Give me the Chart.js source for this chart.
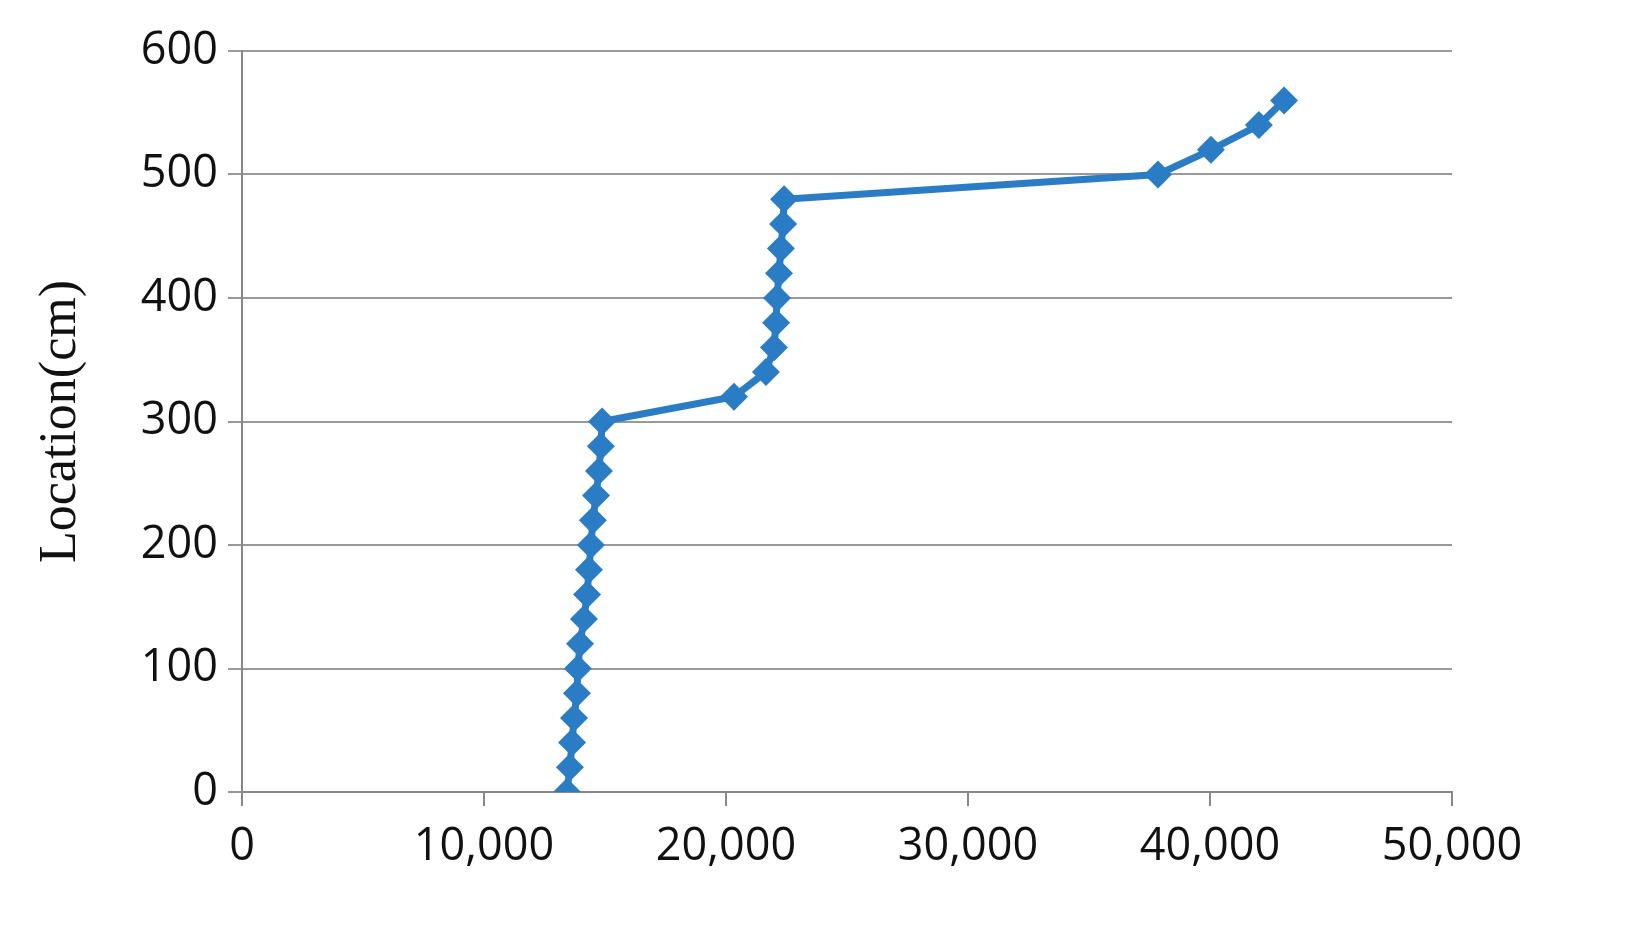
<!DOCTYPE html>
<html><head><meta charset="utf-8">
<script src="https://cdn.jsdelivr.net/npm/chart.js@4/dist/chart.umd.min.js"></script>
<style>html,body{margin:0;padding:0;background:#fff}#w{width:1633px;height:950px}</style>
</head><body><div id="w"><canvas id="c"></canvas></div>
<script>
const locations = [0,20,40,60,80,100,120,140,160,180,200,220,240,260,280,300,320,340,360,380,400,420,440,460,480,500,520,540,560];
const values = [13430,13550,13640,13720,13840,13880,13970,14130,14260,14340,14420,14500,14630,14750,14830,14880,20330,21650,21980,22070,22110,22190,22270,22360,22400,37850,40040,42020,43060];
const xTicks = [0,10000,20000,30000,40000,50000];
const yTicks = [0,100,200,300,400,500,600];
const yTitle = "Location(cm)";
const pts = values.map((v,i)=>({x:v,y:locations[i]}));
const blue = '#2a7dc4';
new Chart(document.getElementById('c'), {
  type:'scatter',
  data:{datasets:[{data:pts,showLine:true,borderColor:blue,backgroundColor:blue,borderWidth:7,
    pointStyle:'rectRot',pointRadius:14,pointHoverRadius:14,pointBorderWidth:0}]},
  options:{responsive:true,maintainAspectRatio:false,animation:false,devicePixelRatio:1,
    layout:{padding:{left:0,right:181,top:51,bottom:0}},
    plugins:{legend:{display:false},tooltip:{enabled:false}},
    scales:{
      x:{type:'linear',min:0,max:50000,afterBuildTicks:a=>{a.ticks=xTicks.map(v=>({value:v}))},
        afterFit:a=>{a.height=158},
        grid:{drawOnChartArea:false,color:'#888',lineWidth:2,tickLength:14},
        border:{color:'#888',width:2},
        ticks:{color:'#111',font:{family:'Open Sans',size:45},maxRotation:0,padding:14,
          callback:v=>v.toLocaleString('en-US')}},
      y:{type:'linear',min:0,max:600,afterBuildTicks:a=>{a.ticks=yTicks.map(v=>({value:v}))},
        afterFit:a=>{a.width=242},
        grid:{color:'#999',lineWidth:2,tickLength:14},
        border:{color:'#888',width:2},
        title:{display:true,text:yTitle,color:'#111',font:{family:'Liberation Serif',size:52},padding:{top:30,bottom:0}},
        ticks:{color:'#111',font:{family:'Open Sans',size:45},padding:10}}
    }}
});
</script></body></html>
